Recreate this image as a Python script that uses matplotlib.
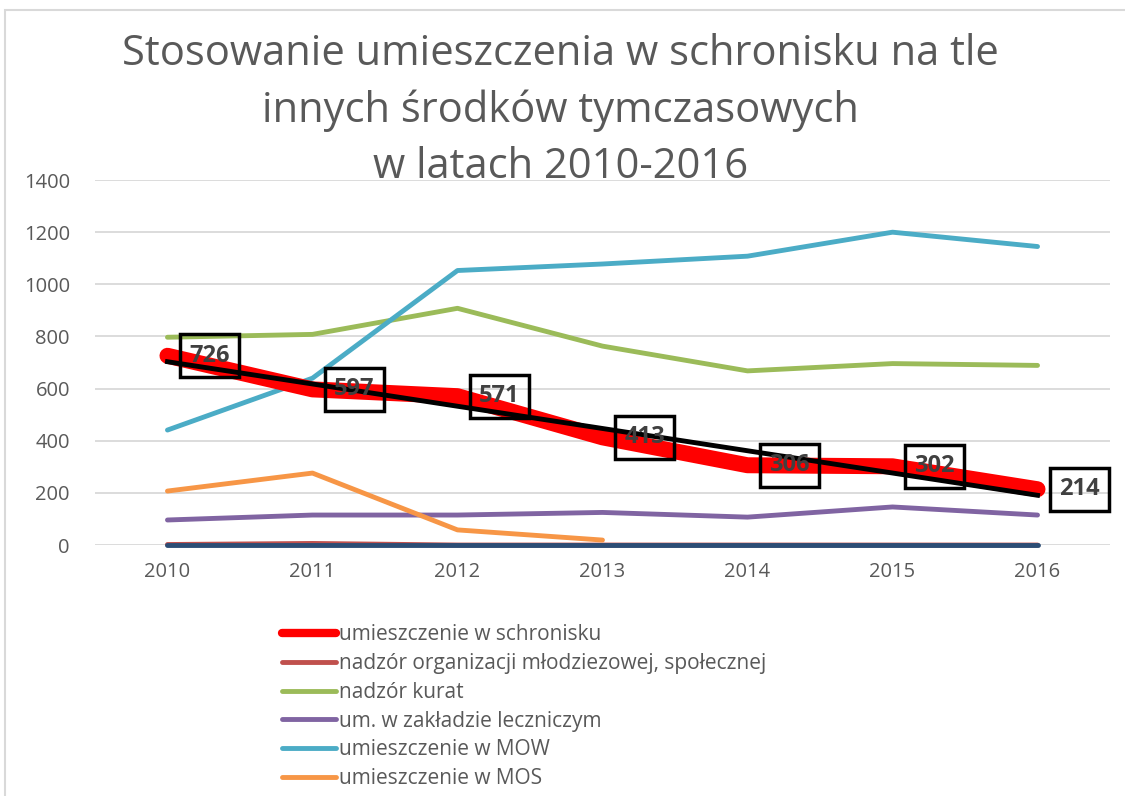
import matplotlib
matplotlib.use("Agg")
import matplotlib.pyplot as plt
import matplotlib.patches as patches
import numpy as np

plt.rcParams["font.family"] = ["Open Sans", "DejaVu Sans"]

# ---------------------------------------------------------------------------
# Data
# ---------------------------------------------------------------------------
years = ["2010", "2011", "2012", "2013", "2014", "2015", "2016"]
schronisko = [726, 597, 571, 413, 306, 302, 214]
nadzor_org = [2, 6, 0, 0, 0, 0, 0]
nadzor_kurat = [797, 808, 908, 763, 668, 696, 689]
zaklad_leczniczy = [96, 115, 115, 125, 107, 146, 115]
mow = [441, 640, 1053, 1078, 1108, 1200, 1145]
mos = [207, 276, 58, 19, np.nan, np.nan, np.nan]
inne = [0, 0, 0, 0, 0, 0, 0]

TEXT = "#595959"
GRID = "#D9D9D9"

fig = plt.figure(figsize=(11.25, 7.96), dpi=100)
ax = fig.add_axes([0.0844, 0.3153, 0.9023, 0.4585])

x = np.arange(len(years))

ax.plot(x, schronisko, color="#FF0000", lw=11.5, solid_capstyle="round",
        solid_joinstyle="round", label="umieszczenie w schronisku", zorder=3)
ax.plot(x, nadzor_org, color="#C0504D", lw=3.5, solid_capstyle="round",
        label="nadzór organizacji młodziezowej, społecznej", zorder=2, clip_on=False)
ax.plot(x, nadzor_kurat, color="#9BBB59", lw=3.5, solid_capstyle="round",
        label="nadzór kurat", zorder=2)
ax.plot(x, zaklad_leczniczy, color="#8064A2", lw=3.5, solid_capstyle="round",
        label="um. w zakładzie leczniczym", zorder=2)
ax.plot(x, mow, color="#4BACC6", lw=3.5, solid_capstyle="round",
        label="umieszczenie w MOW", zorder=2)
ax.plot(x, mos, color="#F79646", lw=3.5, solid_capstyle="round",
        label="umieszczenie w MOS", zorder=2, clip_on=False)
ax.plot(x, inne, color="#2C4D75", lw=3.5, solid_capstyle="round", zorder=2.5,
        clip_on=False)

# linear trend of the shelter series
coef = np.polyfit(x, schronisko, 1)
ax.plot(x, np.polyval(coef, x), color="black", lw=3.5, zorder=4)

# data labels
for xi, v in zip(x, schronisko):
    ax.annotate(str(v), (xi, v), xytext=(42, 0), textcoords="offset pixels",
                ha="center", va="center", fontsize=17, fontweight="bold",
                color="#404040", zorder=5,
                bbox=dict(boxstyle="square,pad=0.4", fc="none", ec="black", lw=2.5))

ax.set_xlim(-0.5, 6.5)
ax.set_ylim(0, 1400)
ax.set_yticks(range(0, 1401, 200))
ax.set_xticks(x)
ax.set_xticklabels(years)
ax.grid(axis="y", color=GRID, lw=1.3)
ax.set_axisbelow(True)
for s in ax.spines.values():
    s.set_visible(False)
ax.tick_params(length=0, labelsize=14.5, colors=TEXT, pad=12)
ax.tick_params(axis="y", pad=18)
ax.patch.set_alpha(0)

fig.text(0.498, 0.959,
         "Stosowanie umieszczenia w schronisku na tle\ninnych środków tymczasowych\nw latach 2010-2016",
         ha="center", va="top", fontsize=30, color=TEXT, linespacing=1.45)

leg = ax.legend(loc="upper left", bbox_to_anchor=(0.243, 0.226), bbox_transform=fig.transFigure,
                frameon=False, fontsize=15, handlelength=2.6, handletextpad=0.15,
                labelspacing=0.37, labelcolor=TEXT, borderaxespad=0)
leg.get_lines()[0].set_linewidth(6)

# chart area border
fig.patches.append(patches.Rectangle((0.004, -0.01), 1.1, 0.997, transform=fig.transFigure,
                                     fill=False, ec="#D9D9D9", lw=1.5))

fig.savefig("out.png", dpi=100, facecolor="white")
